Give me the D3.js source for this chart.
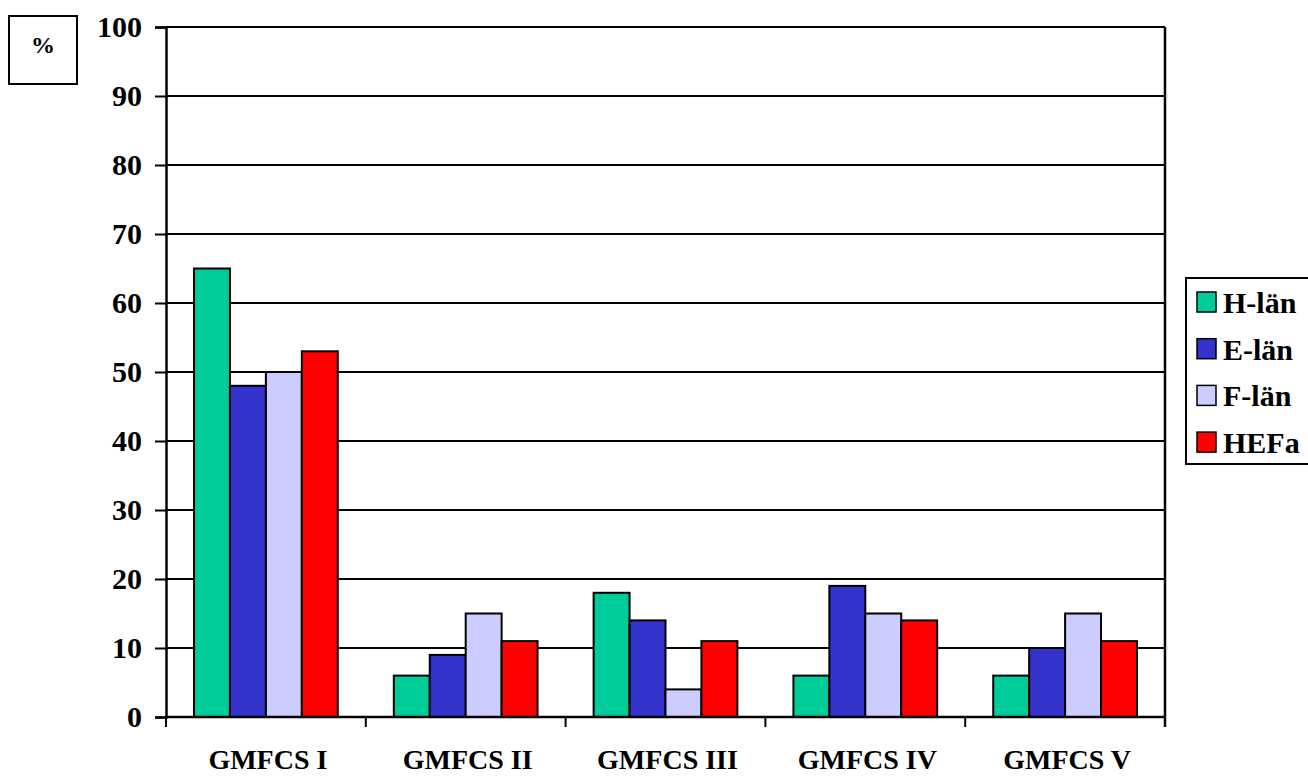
<!DOCTYPE html>
<html>
<head>
<meta charset="utf-8">
<script src="https://cdn.jsdelivr.net/npm/d3@7"></script>
<style>
  html, body { margin: 0; padding: 0; background: #fff; }
  svg { display: block; }
  text { font-family: "Liberation Serif", "Times New Roman", Times, serif; font-weight: bold; fill: #000; }
</style>
</head>
<body>
<svg id="chart" width="1308" height="776"></svg>
<script>
const categories = ["GMFCS I", "GMFCS II", "GMFCS III", "GMFCS IV", "GMFCS V"];
const seriesNames = ["H-län", "E-län", "F-län", "HEFa"];
const seriesColors = ["#00CC99", "#3333CC", "#CCCCFF", "#FF0000"];
const hLan = [65, 6, 18, 6, 6];
const eLan = [48, 9, 14, 19, 10];
const fLan = [50, 15, 4, 15, 15];
const hefa = [53, 11, 11, 14, 11];
const yTicks = [0, 10, 20, 30, 40, 50, 60, 70, 80, 90, 100];
const yUnit = "%";

const seriesValues = [hLan, eLan, fLan, hefa];
const data = categories.map((c, i) => ({
  cat: c,
  vals: seriesNames.map((s, j) => ({ key: s, value: seriesValues[j][i], color: seriesColors[j] }))
}));

const svg = d3.select("#chart");
const plot = { left: 166, right: 1165, top: 27, bottom: 717 };

const x0 = d3.scaleBand().domain(categories).range([plot.left, plot.right]).padding(0);
const x1 = d3.scaleBand().domain(seriesNames).range([0, x0.bandwidth()]).paddingInner(0).paddingOuter(0.78);
const y = d3.scaleLinear().domain([0, 100]).range([plot.bottom, plot.top]);

// gridlines
svg.append("g").selectAll("line").data(yTicks).join("line")
  .attr("x1", plot.left).attr("x2", plot.right)
  .attr("y1", d => y(d)).attr("y2", d => y(d))
  .attr("stroke", "#000").attr("stroke-width", 2);

// bars
const groups = svg.append("g").selectAll("g").data(data).join("g")
  .attr("transform", d => `translate(${x0(d.cat)},0)`);
groups.selectAll("rect").data(d => d.vals).join("rect")
  .attr("x", d => x1(d.key))
  .attr("y", d => y(d.value))
  .attr("width", x1.bandwidth())
  .attr("height", d => y(0) - y(d.value))
  .attr("fill", d => d.color)
  .attr("stroke", "#000").attr("stroke-width", 2);

// y axis
const yAxis = d3.axisLeft(y).tickValues(yTicks).tickSize(11).tickPadding(13).tickFormat(d3.format("d"));
const gy = svg.append("g").attr("transform", `translate(${plot.left},0)`).call(yAxis);
gy.select(".domain").attr("stroke", "#000").attr("stroke-width", 2.5);
gy.selectAll(".tick line").attr("stroke", "#000").attr("stroke-width", 2);
gy.selectAll(".tick text").style("font-size", "30px").style("font-family", "'Liberation Serif', 'Times New Roman', serif").style("font-weight", "bold").attr("fill", "#000");

// x axis baseline and boundary ticks
const boundaries = categories.map(c => x0(c)).concat([plot.right]);
svg.append("line").attr("x1", plot.left).attr("x2", plot.right)
  .attr("y1", y(0)).attr("y2", y(0)).attr("stroke", "#000").attr("stroke-width", 2.5);
svg.append("g").selectAll("line").data(boundaries).join("line")
  .attr("x1", d => d).attr("x2", d => d)
  .attr("y1", y(0)).attr("y2", y(0) + 10)
  .attr("stroke", "#000").attr("stroke-width", 2);
// right border
svg.append("line").attr("x1", plot.right).attr("x2", plot.right)
  .attr("y1", plot.top).attr("y2", plot.bottom + 10)
  .attr("stroke", "#000").attr("stroke-width", 2.5);

// category labels
svg.append("g").selectAll("text").data(categories).join("text")
  .attr("x", d => x0(d) + x0.bandwidth() / 2 + 2)
  .attr("y", 769)
  .attr("text-anchor", "middle")
  .style("font-size", "28px")
  .text(d => d);

// unit box
svg.append("rect").attr("x", 9).attr("y", 16).attr("width", 68).attr("height", 68)
  .attr("fill", "#fff").attr("stroke", "#000").attr("stroke-width", 2);
svg.append("text").attr("x", 43).attr("y", 53).attr("text-anchor", "middle")
  .style("font-size", "24px").text(yUnit);

// legend
const legend = svg.append("g");
legend.append("rect").attr("x", 1186).attr("y", 278).attr("width", 140).attr("height", 186)
  .attr("fill", "#fff").attr("stroke", "#000").attr("stroke-width", 2);
const items = legend.selectAll("g.item").data(seriesNames).join("g").attr("class", "item")
  .attr("transform", (d, i) => `translate(0,${292 + i * 46.7})`);
items.append("rect").attr("x", 1197).attr("y", 0).attr("width", 19).attr("height", 20)
  .attr("fill", (d, i) => seriesColors[i]).attr("stroke", "#000").attr("stroke-width", 1.5);
items.append("text").attr("x", 1223).attr("y", 21)
  .style("font-size", "30px").text(d => d);
</script>
</body>
</html>
